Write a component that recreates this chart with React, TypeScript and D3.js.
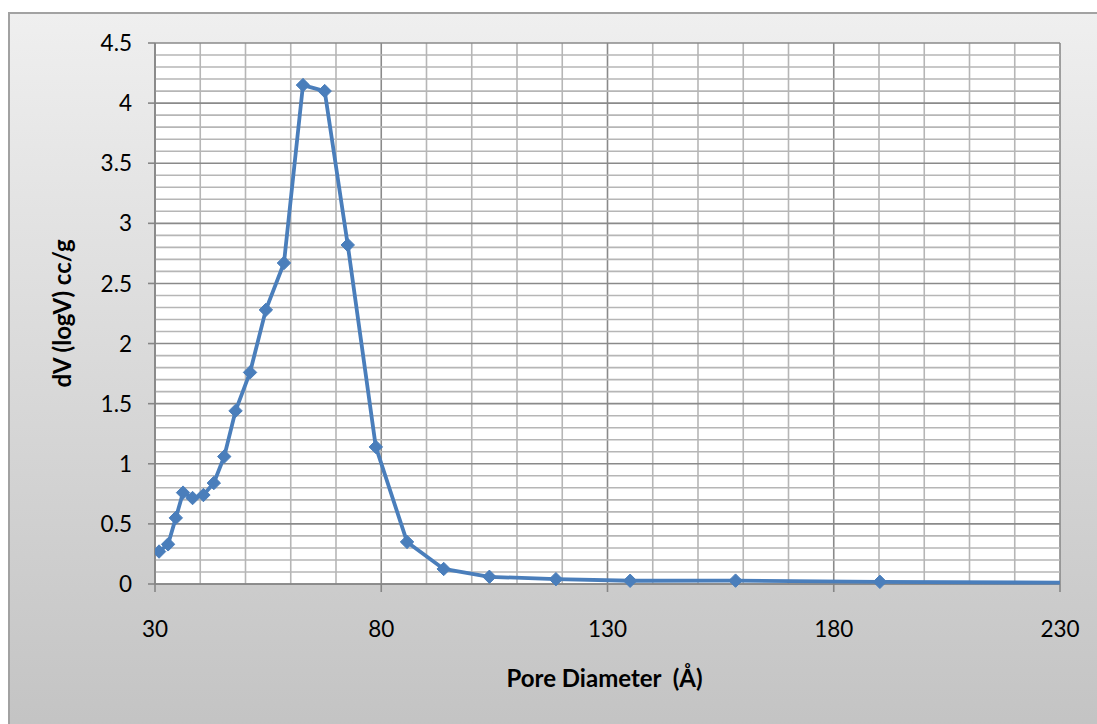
import React from 'react';
import * as d3 from 'd3';

const width = 1097;
const height = 724;
const margin = { top: 43, right: 37, bottom: 140, left: 155 };
const blue = '#4a7ebb';

// pore diameter (Å) and dV(logV) (cc/g)
const poreDiameter = [30.9, 32.9, 34.6, 36.2, 38.3, 40.7, 43.0, 45.3, 47.8, 51.0, 54.5, 58.5, 62.7, 67.5, 72.6, 78.8, 85.7, 93.8, 103.9, 118.6, 135.0, 158.3, 190.2, 262.0];
const dV = [0.27, 0.33, 0.55, 0.76, 0.715, 0.74, 0.84, 1.06, 1.44, 1.76, 2.28, 2.67, 4.15, 4.1, 2.82, 1.14, 0.35, 0.125, 0.06, 0.04, 0.027, 0.028, 0.018, 0.005];
const xTicks = [30, 80, 130, 180, 230];
const yTicks = [0, 0.5, 1, 1.5, 2, 2.5, 3, 3.5, 4, 4.5];

export default function App() {
  const x = d3.scaleLinear().domain([30, 230]).range([margin.left, width - margin.right]);
  const y = d3.scaleLinear().domain([0, 4.5]).range([height - margin.bottom, margin.top]);
  const pts = poreDiameter.map((d, i) => [d, dV[i]] as [number, number]);
  const line = d3.line<[number, number]>().x((d) => x(d[0])).y((d) => y(d[1]));
  const diamond = d3.symbol().type(d3.symbolDiamond2).size(115)();
  const minorX = d3.range(30, 231, 10);
  const minorY = d3.range(0, 46).map((i) => i / 10);
  const x0 = margin.left, x1 = width - margin.right;
  const y0 = height - margin.bottom, y1 = margin.top;

  return (
    <svg width={width} height={height} style={{ position: 'absolute', left: 0, top: 0 }} fontFamily="Lato, 'Open Sans', sans-serif">
      <defs>
        <linearGradient id="bg" x1="0" y1="0" x2="0" y2="1">
          <stop offset="0" stopColor="#efefef" />
          <stop offset="1" stopColor="#c3c3c3" />
        </linearGradient>
        <clipPath id="plot">
          <rect x={x0} y={y1 - 10} width={x1 - x0} height={y0 - y1 + 20} />
        </clipPath>
      </defs>
      <rect x={0} y={0} width={width} height={height} fill="#fff" />
      <rect x={9} y={13} width={width} height={height} fill="url(#bg)" stroke="#a2a2a2" strokeWidth={2} />
      <rect x={x0} y={y1} width={x1 - x0} height={y0 - y1} fill="#fff" />
      <g>
        {minorX.map((v) => (
          <line key={'mx' + v} x1={x(v)} x2={x(v)} y1={y1} y2={y0} stroke={(v - 30) % 50 === 0 ? '#8a8a8a' : '#b6b6b6'} strokeWidth={1.6} />
        ))}
        {minorY.map((v, i) => (
          <line key={'my' + i} x1={x0} x2={x1} y1={y(v)} y2={y(v)} stroke={i % 5 === 0 ? '#8a8a8a' : '#b6b6b6'} strokeWidth={1.6} />
        ))}
      </g>
      <g stroke="#868686" strokeWidth={1.6}>
        <line x1={x0} x2={x0} y1={y1} y2={y0} />
        <line x1={x0} x2={x1} y1={y0} y2={y0} />
        {yTicks.map((v) => <line key={'yt' + v} x1={x0 - 7} x2={x0} y1={y(v)} y2={y(v)} />)}
        {xTicks.map((v) => <line key={'xt' + v} x1={x(v)} x2={x(v)} y1={y0} y2={y0 + 8} />)}
      </g>
      <g clipPath="url(#plot)">
        <path d={line(pts) ?? ''} fill="none" stroke={blue} strokeWidth={3.8} strokeLinejoin="round" />
        {pts.map((d, i) => (
          <path key={i} d={diamond ?? ''} transform={`translate(${x(d[0])},${y(d[1])})`} fill={blue} stroke={blue} strokeWidth={1} />
        ))}
      </g>
      <g fontSize={22.5} fill="#000">
        {yTicks.map((v) => (
          <text key={'yl' + v} x={x0 - 23} y={y(v)} dy="0.36em" textAnchor="end">{v}</text>
        ))}
        {xTicks.map((v) => (
          <text key={'xl' + v} x={x(v)} y={y0 + 53} textAnchor="middle">{v}</text>
        ))}
      </g>
      <text x={(x0 + x1) / 2 - 3} y={687} textAnchor="middle" fontSize={24} fontWeight="bold" style={{ whiteSpace: 'pre' }}>Pore Diameter  (Å)</text>
      <text transform={`translate(71, ${(y0 + y1) / 2}) rotate(-90)`} textAnchor="middle" fontSize={24} fontWeight="bold">dV (logV) cc/g</text>
    </svg>
  );
}
